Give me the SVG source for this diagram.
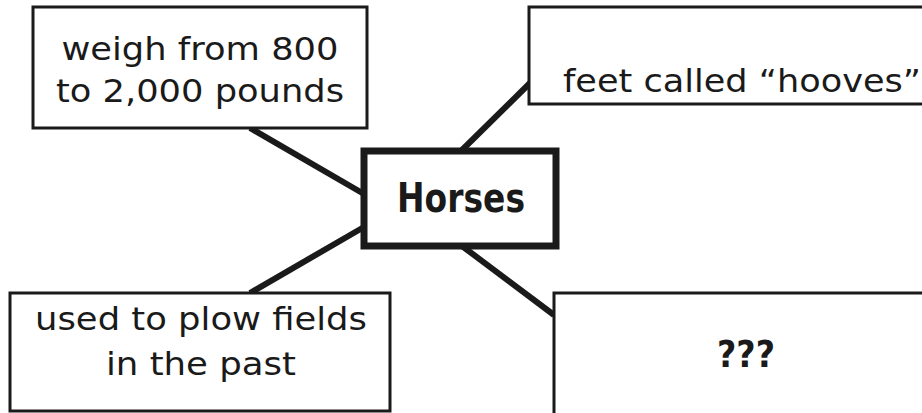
<svg xmlns="http://www.w3.org/2000/svg" width="922" height="413" viewBox="0 0 922 413">
<style>
.box{fill:#fff;stroke:#1a1a1a;stroke-width:3}
.main{fill:#fff;stroke:#1a1a1a;stroke-width:7}
.t{font-family:"DejaVu Sans",Verdana,sans-serif;font-size:32px;fill:#1a1a1a;text-anchor:middle}
.b{font-family:"DejaVu Sans",Verdana,sans-serif;font-size:38px;font-weight:bold;fill:#1a1a1a;text-anchor:middle}
.c{stroke:#1a1a1a;stroke-width:6;fill:none}
</style>
<rect width="922" height="413" fill="#fff"/>
<g id="connectors">
<line class="c" x1="250" y1="128" x2="364" y2="194"/>
<line class="c" x1="462" y1="150" x2="530" y2="83"/>
<line class="c" x1="364" y1="227" x2="250" y2="293"/>
<line class="c" x1="462" y1="246" x2="554" y2="315"/>
</g>
<g id="n-weigh">
<rect class="box" x="33" y="7" width="334" height="121"/>
<text class="t" x="200" y="60" textLength="277" lengthAdjust="spacingAndGlyphs">weigh from 800</text>
<text class="t" x="200" y="102" textLength="288" lengthAdjust="spacingAndGlyphs">to 2,000 pounds</text>
</g>
<g id="n-feet">
<rect class="box" x="529" y="7" width="420" height="97"/>
<text class="t" x="742" y="92" textLength="358" lengthAdjust="spacingAndGlyphs">feet called “hooves”</text>
</g>
<g id="n-horses">
<rect class="main" x="364" y="151" width="192" height="95"/>
<text class="b" x="461" y="212" textLength="128" lengthAdjust="spacingAndGlyphs" style="font-size:40px">Horses</text>
</g>
<g id="n-used">
<rect class="box" x="10" y="293" width="380" height="118"/>
<text class="t" x="201" y="330" textLength="332" lengthAdjust="spacingAndGlyphs">used to plow fields</text>
<text class="t" x="201" y="375" textLength="190" lengthAdjust="spacingAndGlyphs">in the past</text>
</g>
<g id="n-unknown">
<rect class="box" x="554" y="293" width="400" height="130"/>
<text class="b" x="746" y="367" textLength="58" lengthAdjust="spacingAndGlyphs">???</text>
</g>
</svg>
